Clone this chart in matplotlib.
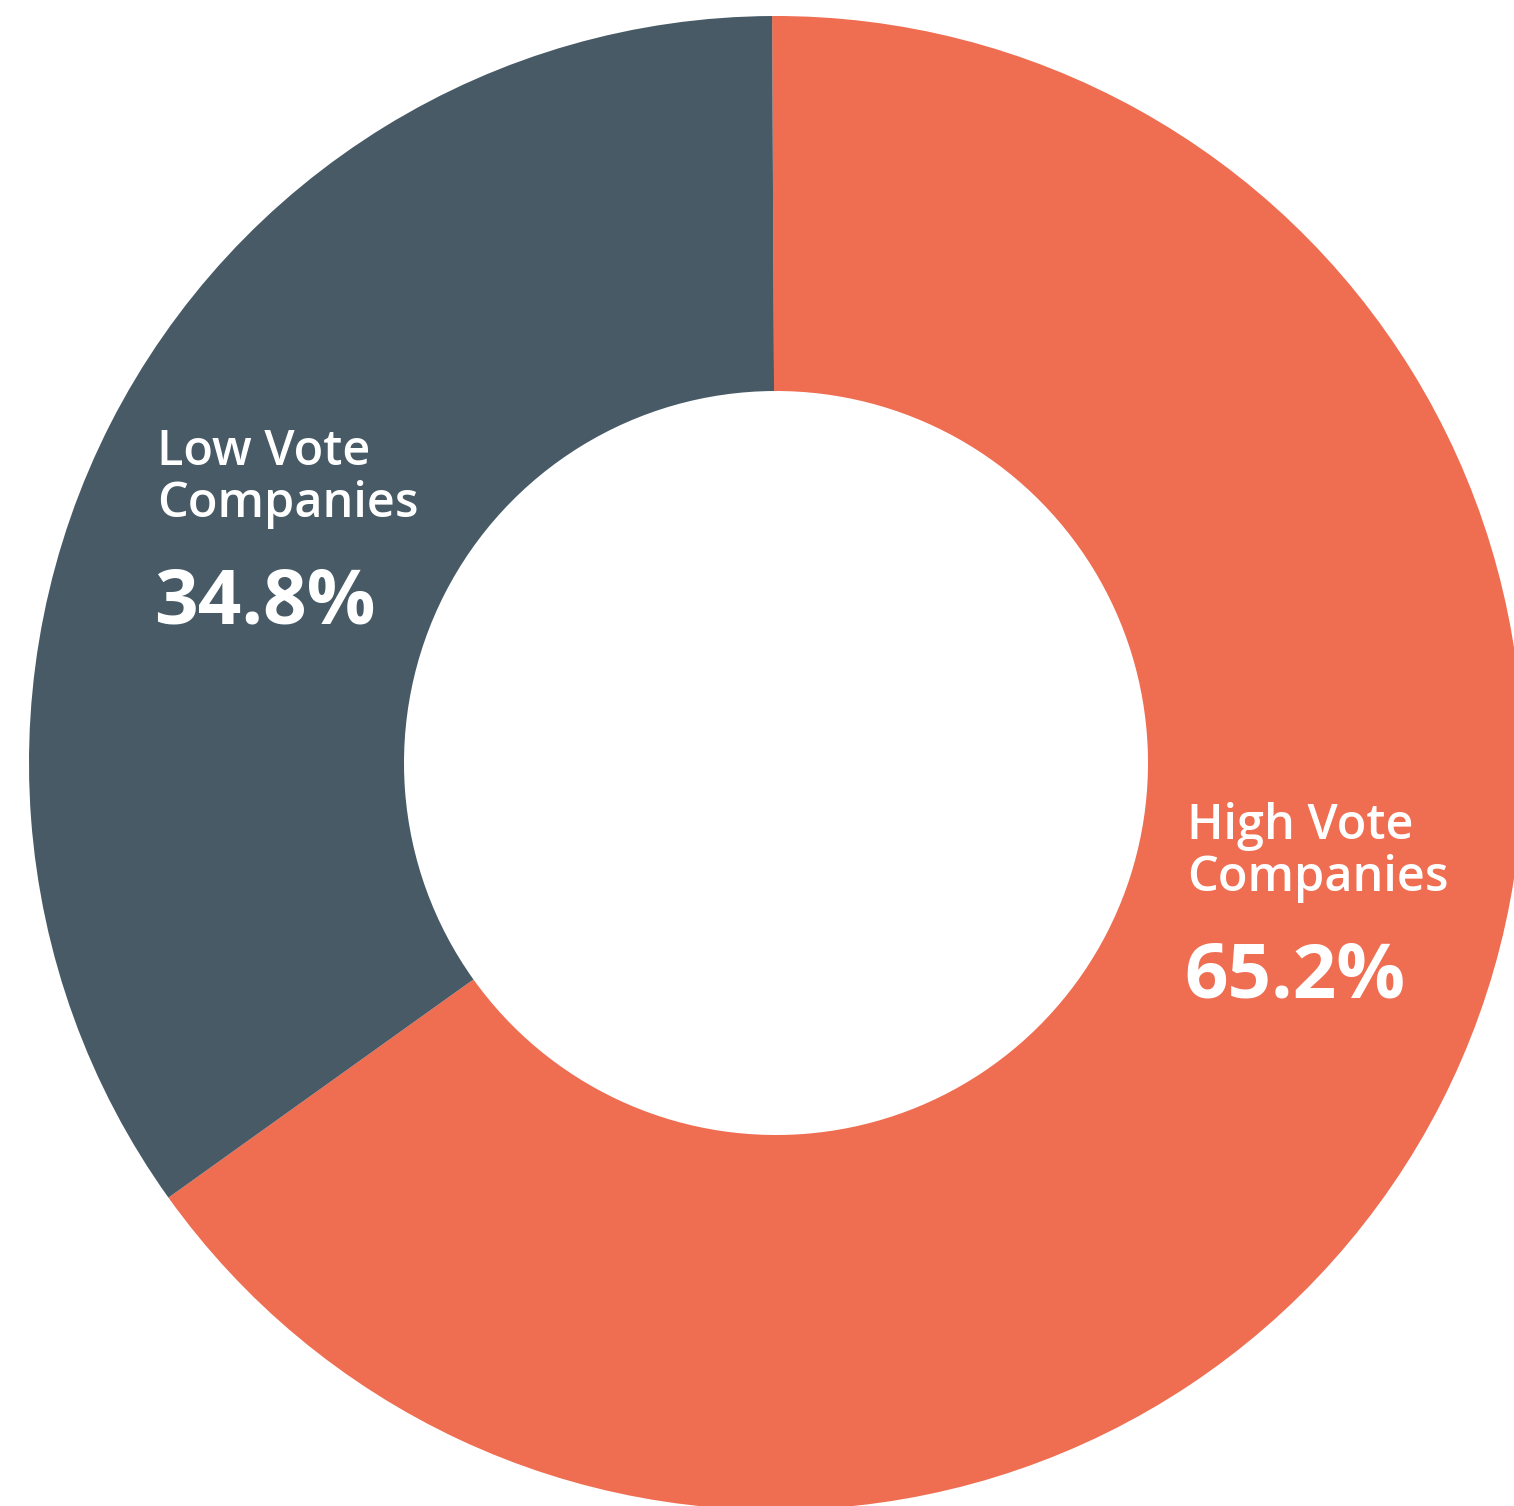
import matplotlib
matplotlib.use("Agg")
import matplotlib.pyplot as plt

# Daten
labels = ["High Vote\nCompanies", "Low Vote\nCompanies"]
values = [65.2, 34.8]
colors = ["#EF6D51", "#475A66"]

plt.rcParams["font.family"] = ["Open Sans", "DejaVu Sans"]

fig = plt.figure(figsize=(15.14, 15.06), dpi=100)
ax = fig.add_axes([0, 0, 1, 1])

cx, cy = 776, 1506 - 763
ax.pie(values, colors=colors, startangle=90.3, counterclock=False,
       center=(cx, cy), radius=747, frame=True,
       wedgeprops=dict(width=375, linewidth=0))
ax.set_xlim(0, 1514)
ax.set_ylim(0, 1506)
ax.set_aspect("equal")
ax.axis("off")

# Beschriftungen: (x, Grundlinie erste Zeile)
pos = [(1187, 1506 - 839), (157, 1506 - 465)]
for (x, y), lab, v in zip(pos, labels, values):
    l1, l2 = lab.split("\n")
    ax.text(x, y, l1, color="white", fontsize=35, fontweight="semibold",
            ha="left", va="baseline")
    ax.text(x, y - 52, l2, color="white", fontsize=35, fontweight="semibold",
            ha="left", va="baseline")
    ax.text(x - 3, y - 158, "%.1f%%" % v, color="white", fontsize=55,
            fontweight="bold", ha="left", va="baseline")

fig.savefig("out.png", dpi=100)
